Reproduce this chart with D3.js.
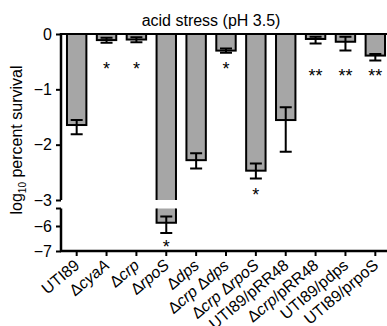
<!DOCTYPE html>
<html><head><meta charset="utf-8">
<script src="https://cdn.jsdelivr.net/npm/d3@7"></script>
<style>
html,body{margin:0;padding:0;background:#fff;}
svg{display:block;font-family:"Liberation Sans",Arial,Helvetica,sans-serif;}
</style></head>
<body><svg id="c" width="387" height="326"></svg>
<script>
const categories = ["UTI89","ΔcyaA","Δcrp","ΔrpoS","Δdps","Δcrp Δdps","Δcrp ΔrpoS","UTI89/pRR48","Δcrp/pRR48","UTI89/pdps","UTI89/prpoS"];
const means     = [-1.645,-0.11,-0.10,-5.87,-2.28,-0.30,-2.47,-1.555,-0.09,-0.14,-0.39];
const errTop    = [-1.555,-0.07,-0.06,-5.62,-2.157,-0.26,-2.34,-1.325,-0.05,-0.05,-0.36];
const errBottom = [-1.81,-0.16,-0.15,-6.28,-2.43,-0.34,-2.61,-2.127,-0.17,-0.30,-0.48];
const sigLabels = ["","*","*","*","","*","*","","**","**","**"];
const sigY      = [null,-0.56,-0.56,-6.68,null,-0.56,-2.84,null,-0.69,-0.69,-0.69];
const upperTicks = [0,-1,-2,-3];
const lowerTicks = [-6,-7];
const upperDomain = [-3,0];
const lowerDomain = [-7,-5.3];
const title = "acid stress (pH 3.5)";

const svg = d3.select("#c");
const axisX = 61, baseY = 251;
const yU = d3.scaleLinear().domain(upperDomain).range([200,34]);
const yL = d3.scaleLinear().domain(lowerDomain).range([baseY,208.5]);
const yv = v => v >= upperDomain[0] ? yU(v) : yL(v);
const x = d3.scaleBand().domain(categories).range([axisX,391]).paddingInner(0.35).paddingOuter(0.2);
const bw = x.bandwidth();
const fill = "#a6a6a6";

const data = categories.map((c,i)=>({c,m:means[i],t:errTop[i],b:errBottom[i],s:sigLabels[i],sy:sigY[i]}));

// bars
const g = svg.append("g");
data.forEach(d=>{
  const x0 = x(d.c), x1 = x0+bw;
  if (d.m >= upperDomain[0]) {
    g.append("rect").attr("x",x0).attr("y",yU(0)).attr("width",bw).attr("height",yU(d.m)-yU(0))
      .attr("fill",fill).attr("stroke","#000").attr("stroke-width",2);
  } else {
    const a = yU(0), b = yU(upperDomain[0]);
    g.append("rect").attr("x",x0).attr("y",a).attr("width",bw).attr("height",b-a).attr("fill",fill);
    g.append("path").attr("d",`M${x0},${b}V${a}H${x1}V${b}`).attr("fill","none").attr("stroke","#000").attr("stroke-width",2);
    const c = yL(lowerDomain[1]), e = yL(d.m);
    g.append("rect").attr("x",x0).attr("y",c).attr("width",bw).attr("height",e-c).attr("fill",fill);
    g.append("path").attr("d",`M${x0},${c}V${e}H${x1}V${c}`).attr("fill","none").attr("stroke","#000").attr("stroke-width",2);
  }
});

// zero line
svg.append("line").attr("x1",axisX).attr("x2",387).attr("y1",yU(0)).attr("y2",yU(0)).attr("stroke","#000").attr("stroke-width",2);

// error bars
data.forEach(d=>{
  const cx = x(d.c)+bw/2, t = yv(d.t), b = yv(d.b), hw = 6;
  g.append("path").attr("d",`M${cx},${t}V${b}M${cx-hw},${t}H${cx+hw}M${cx-hw},${b}H${cx+hw}`)
    .attr("fill","none").attr("stroke","#000").attr("stroke-width",2);
  if (d.s) {
    svg.append("text").attr("x",cx).attr("y",yv(d.sy)+10).attr("text-anchor","middle")
      .attr("font-size",18).text(d.s);
  }
});

// y axes
const yAxU = d3.axisLeft(yU).tickValues(upperTicks).tickSize(5).tickPadding(4).tickFormat(d3.format("d"));
const yAxL = d3.axisLeft(yL).tickValues(lowerTicks).tickSize(5).tickPadding(4).tickFormat(d3.format("d"));
function styleAxis(sel){
  sel.select(".domain").remove();
  sel.selectAll(".tick line").attr("stroke","#000").attr("stroke-width",2);
  sel.selectAll(".tick text").attr("font-size",16).attr("font-family","Liberation Sans, Arial, sans-serif").attr("fill","#000");
}
const gu = svg.append("g").attr("transform",`translate(${axisX},0)`).call(yAxU); styleAxis(gu);
const gl = svg.append("g").attr("transform",`translate(${axisX},0)`).call(yAxL); styleAxis(gl);
svg.append("line").attr("x1",axisX).attr("x2",axisX).attr("y1",yU(0)-1).attr("y2",yU(upperDomain[0])).attr("stroke","#000").attr("stroke-width",2.5);
svg.append("line").attr("x1",axisX).attr("x2",axisX).attr("y1",yL(lowerDomain[1])).attr("y2",baseY+1).attr("stroke","#000").attr("stroke-width",2.5);
svg.append("line").attr("x1",axisX-5).attr("x2",axisX).attr("y1",yL(lowerDomain[1])).attr("y2",yL(lowerDomain[1])).attr("stroke","#000").attr("stroke-width",2);

// x axis
const xAx = d3.axisBottom(x).tickSize(5).tickFormat("");
const gx = svg.append("g").attr("transform",`translate(0,${baseY})`).call(xAx);
gx.select(".domain").remove();
gx.selectAll(".tick line").attr("stroke","#000").attr("stroke-width",2);
svg.append("line").attr("x1",axisX-1).attr("x2",387).attr("y1",baseY).attr("y2",baseY).attr("stroke","#000").attr("stroke-width",2.5);

// x labels
categories.forEach(c=>{
  const cx = x(c)+bw/2;
  const t = svg.append("text").attr("text-anchor","end").attr("font-size",16)
    .attr("transform",`translate(${cx+4},${baseY+16}) rotate(-40)`);
  const parts = c.split(/(Δ[A-Za-z]+)/).filter(s=>s.length);
  parts.forEach(p=>{
    if (p.startsWith("Δ")) {
      t.append("tspan").text("Δ");
      t.append("tspan").attr("font-style","italic").text(p.slice(1));
    } else t.append("tspan").text(p);
  });
});

// y label
const yl = svg.append("text").attr("text-anchor","middle").attr("font-size",16)
  .attr("transform","translate(22,140) rotate(-90)");
yl.append("tspan").text("log");
yl.append("tspan").attr("font-size",10).attr("dy",4).text("10");
yl.append("tspan").attr("dy",-4).text(" percent survival");

// title
svg.append("text").attr("x",211).attr("y",26).attr("text-anchor","middle").attr("font-size",16).text(title);
</script></body></html>
